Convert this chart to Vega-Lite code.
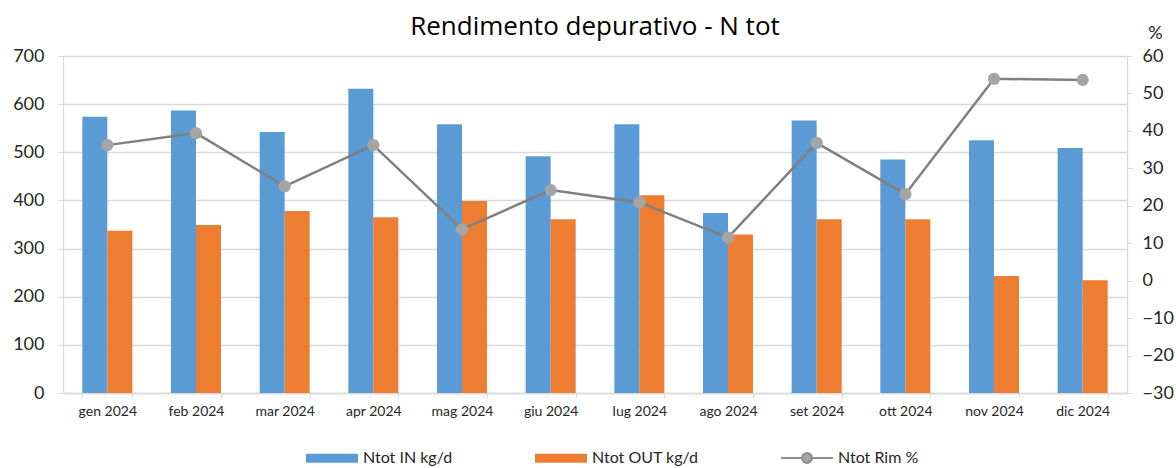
{
  "$schema": "https://vega.github.io/schema/vega-lite/v6.json",
  "autosize": {"type": "none"},
  "width": 1064,
  "height": 337,
  "padding": {"left": 63, "top": 56, "right": 49, "bottom": 75},
  "background": "white",
  "config": {
    "view": {"stroke": null},
    "font": "Lato",
    "axis": {"labelFont": "Lato", "titleFont": "Lato", "labelColor": "#262626", "titleColor": "#262626"}
  },
  "title": {
    "text": "Rendimento depurativo - N tot",
    "font": "Open Sans",
    "fontSize": 26,
    "fontWeight": "normal",
    "color": "#000000",
    "anchor": "middle",
    "frame": "group",
    "offset": -16
  },
  "datasets": {
    "barre": [
      {"mese": "gen 2024", "serie": "Ntot IN kg/d", "valore": 574},
      {"mese": "gen 2024", "serie": "Ntot OUT kg/d", "valore": 337},
      {"mese": "feb 2024", "serie": "Ntot IN kg/d", "valore": 587},
      {"mese": "feb 2024", "serie": "Ntot OUT kg/d", "valore": 349},
      {"mese": "mar 2024", "serie": "Ntot IN kg/d", "valore": 542},
      {"mese": "mar 2024", "serie": "Ntot OUT kg/d", "valore": 378},
      {"mese": "apr 2024", "serie": "Ntot IN kg/d", "valore": 632},
      {"mese": "apr 2024", "serie": "Ntot OUT kg/d", "valore": 365},
      {"mese": "mag 2024", "serie": "Ntot IN kg/d", "valore": 558},
      {"mese": "mag 2024", "serie": "Ntot OUT kg/d", "valore": 399},
      {"mese": "giu 2024", "serie": "Ntot IN kg/d", "valore": 492},
      {"mese": "giu 2024", "serie": "Ntot OUT kg/d", "valore": 361},
      {"mese": "lug 2024", "serie": "Ntot IN kg/d", "valore": 558},
      {"mese": "lug 2024", "serie": "Ntot OUT kg/d", "valore": 411},
      {"mese": "ago 2024", "serie": "Ntot IN kg/d", "valore": 374},
      {"mese": "ago 2024", "serie": "Ntot OUT kg/d", "valore": 329},
      {"mese": "set 2024", "serie": "Ntot IN kg/d", "valore": 566},
      {"mese": "set 2024", "serie": "Ntot OUT kg/d", "valore": 361},
      {"mese": "ott 2024", "serie": "Ntot IN kg/d", "valore": 485},
      {"mese": "ott 2024", "serie": "Ntot OUT kg/d", "valore": 361},
      {"mese": "nov 2024", "serie": "Ntot IN kg/d", "valore": 525},
      {"mese": "nov 2024", "serie": "Ntot OUT kg/d", "valore": 243},
      {"mese": "dic 2024", "serie": "Ntot IN kg/d", "valore": 509},
      {"mese": "dic 2024", "serie": "Ntot OUT kg/d", "valore": 234}
    ],
    "rim": [
      {"mese": "gen 2024", "rim": 36.2},
      {"mese": "feb 2024", "rim": 39.4},
      {"mese": "mar 2024", "rim": 25.2},
      {"mese": "apr 2024", "rim": 36.2},
      {"mese": "mag 2024", "rim": 13.7},
      {"mese": "giu 2024", "rim": 24.2},
      {"mese": "lug 2024", "rim": 20.9},
      {"mese": "ago 2024", "rim": 11.5},
      {"mese": "set 2024", "rim": 36.8},
      {"mese": "ott 2024", "rim": 23.1},
      {"mese": "nov 2024", "rim": 53.9},
      {"mese": "dic 2024", "rim": 53.6}
    ]
  },
  "layer": [
    {
      "data": {"name": "barre"},
      "mark": {"type": "bar"},
      "encoding": {
        "x": {
          "field": "mese",
          "type": "nominal",
          "sort": ["gen 2024", "feb 2024", "mar 2024", "apr 2024", "mag 2024", "giu 2024", "lug 2024", "ago 2024", "set 2024", "ott 2024", "nov 2024", "dic 2024"],
          "scale": {"paddingInner": 0.436, "paddingOuter": 0.218},
          "axis": {
            "title": null,
            "labelAngle": 0,
            "labelFontSize": 14,
            "labelPadding": 6,
            "tickBand": "extent",
            "tickSize": 5,
            "tickColor": "#d9d9d9",
            "domainColor": "#d9d9d9",
            "domainWidth": 1.3,
            "grid": false
          }
        },
        "xOffset": {
          "field": "serie",
          "sort": ["Ntot IN kg/d", "Ntot OUT kg/d"],
          "scale": {"paddingInner": 0, "paddingOuter": 0}
        },
        "y": {
          "field": "valore",
          "type": "quantitative",
          "scale": {"domain": [0, 700], "nice": false},
          "axis": {
            "title": null,
            "values": [0, 100, 200, 300, 400, 500, 600, 700],
            "labelFontSize": 18,
            "labelPadding": 14,
            "tickSize": 5,
            "tickColor": "#d9d9d9",
            "domainColor": "#d9d9d9",
            "domainWidth": 1.3,
            "grid": true,
            "gridColor": "#d9d9d9",
            "gridWidth": 1.3
          }
        },
        "color": {
          "field": "serie",
          "type": "nominal",
          "scale": {
            "domain": ["Ntot IN kg/d", "Ntot OUT kg/d", "Ntot Rim %"],
            "range": ["#5b9bd5", "#ed7d31", "#a5a5a5"]
          },
          "legend": {
            "title": null,
            "orient": "none",
            "direction": "horizontal",
            "legendX": 242,
            "legendY": 375,
            "columns": 3,
            "columnPadding": 78,
            "labelFont": "Lato",
            "labelFontSize": 16,
            "labelColor": "#262626",
            "labelOffset": 4,
            "symbolSize": 2704,
            "encode": {
              "symbols": {
                "update": {
                  "shape": {"signal": "datum.value === 'Ntot Rim %' ? 'M-1,0H-0.19M0.19,0H1M-0.19,0A0.19,0.19 0 1,0 0.19,0A0.19,0.19 0 1,0 -0.19,0Z' : 'M-1,-0.17H1V0.17H-1Z'"},
                  "fill": {"signal": "datum.value === 'Ntot IN kg/d' ? '#5b9bd5' : datum.value === 'Ntot OUT kg/d' ? '#ed7d31' : '#a5a5a5'"},
                  "stroke": {"signal": "datum.value === 'Ntot Rim %' ? '#8c8c8c' : 'transparent'"},
                  "strokeWidth": {"value": 2},
                  "opacity": {"value": 1}
                }
              }
            }
          }
        }
      }
    },
    {
      "data": {"name": "rim"},
      "encoding": {
        "x": {"field": "mese", "type": "nominal", "sort": ["gen 2024", "feb 2024", "mar 2024", "apr 2024", "mag 2024", "giu 2024", "lug 2024", "ago 2024", "set 2024", "ott 2024", "nov 2024", "dic 2024"]},
        "y": {
          "field": "rim",
          "type": "quantitative",
          "scale": {"domain": [-30, 60], "nice": false},
          "axis": {
            "orient": "right",
            "title": "%",
            "titleAngle": 0,
            "titleAlign": "center",
            "titleBaseline": "middle",
            "titleX": 28,
            "titleY": -23,
            "titleFontSize": 18,
            "titleFontWeight": "normal",
            "values": [-30, -20, -10, 0, 10, 20, 30, 40, 50, 60],
            "labelFontSize": 18,
            "labelPadding": 10,
            "tickSize": 5,
            "tickColor": "#d9d9d9",
            "domainColor": "#d9d9d9",
            "domainWidth": 1.3,
            "grid": false
          }
        }
      },
      "layer": [
        {"mark": {"type": "line", "stroke": "#7f7f7f", "strokeWidth": 2.5}},
        {"mark": {"type": "point", "filled": true, "fill": "#a5a5a5", "opacity": 1, "size": 150}}
      ]
    }
  ],
  "resolve": {"scale": {"y": "independent"}}
}
